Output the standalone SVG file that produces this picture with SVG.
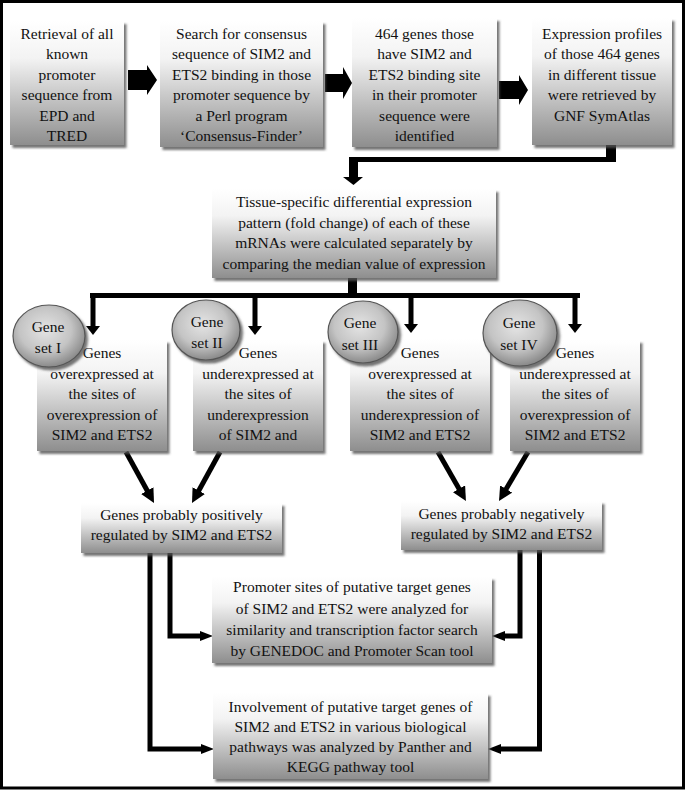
<svg xmlns="http://www.w3.org/2000/svg" width="685" height="790" viewBox="0 0 685 790">
<defs>
<linearGradient id="boxg" x1="0" y1="0" x2="0" y2="1">
<stop offset="0" stop-color="#ffffff"/>
<stop offset="0.3" stop-color="#f3f3f3"/>
<stop offset="1" stop-color="#8e8e8e"/>
</linearGradient>
<radialGradient id="ellg" cx="0.45" cy="0.4" r="0.6">
<stop offset="0" stop-color="#e4e4e4"/>
<stop offset="0.6" stop-color="#c4c4c4"/>
<stop offset="1" stop-color="#8a8a8a"/>
</radialGradient>
<filter id="sh" x="-10%" y="-10%" width="125%" height="130%">
<feDropShadow dx="2.5" dy="3" stdDeviation="1.2" flood-color="#555" flood-opacity="0.8"/>
</filter>
<marker id="ah" markerUnits="userSpaceOnUse" markerWidth="16" markerHeight="14" viewBox="0 0 16 14" refX="4" refY="7" orient="auto">
<path d="M0,0 L14,7 L0,14 z" fill="#000"/>
</marker>
<marker id="ahs" markerUnits="userSpaceOnUse" markerWidth="14" markerHeight="10" viewBox="0 0 14 10" refX="3" refY="5" orient="auto">
<path d="M0,0 L13,5 L0,10 z" fill="#000"/>
</marker>
</defs>
<style>
.box{fill:url(#boxg);filter:url(#sh);}
.ell{fill:url(#ellg);stroke:#555;stroke-width:1.2;filter:url(#sh);}
text{font-family:"Liberation Serif","Times New Roman",serif;font-size:15.5px;fill:#111;text-anchor:middle;}
.bar{fill:#000;}
.ln{fill:none;stroke:#000;stroke-width:5;stroke-linejoin:miter;}
</style>
<rect x="1.5" y="1.5" width="682" height="786.5" fill="none" stroke="#000" stroke-width="3"/>

<g id="connectors">
<polygon class="bar" points="128,70 147,70 147,65 157,80 147,95 147,90 128,90"/>
<polygon class="bar" points="325,74 343,74 343,67 352,83 343,99 343,92 325,92"/>
<polygon class="bar" points="499,81 519,81 519,75 528,90 519,105 519,99 499,99"/>
<polygon class="bar" points="606,145 616,145 616,162 358,162 358,177 363,177 353.5,185 343,177 349,177 349,157 606,157"/>
<polygon class="bar" points="348,278 357,278 357,293 580,293 580,298 90,298 90,293 348,293"/>
<g class="bar">
<rect x="90.5" y="293" width="5" height="33"/><polygon points="86,326 100,326 93,335"/>
<rect x="252.5" y="293" width="5" height="33"/><polygon points="248,326 262,326 255,335"/>
<rect x="408.5" y="293" width="5" height="31"/><polygon points="404,324 418,324 411,333"/>
<rect x="572.5" y="293" width="5" height="31"/><polygon points="568,324 582,324 575,333"/>
</g>
<line class="ln" x1="126" y1="452" x2="149.2" y2="494.2" marker-end="url(#ah)"/>
<line class="ln" x1="220" y1="452" x2="196.8" y2="494.2" marker-end="url(#ah)"/>
<line class="ln" x1="438" y1="452" x2="461" y2="492.3" marker-end="url(#ah)"/>
<line class="ln" x1="528" y1="452" x2="504.1" y2="492.4" marker-end="url(#ah)"/>
<path class="ln" d="M170,553 V636 H203" marker-end="url(#ahs)"/>
<path class="ln" d="M520,550 V636 H502" marker-end="url(#ahs)"/>
<path class="ln" d="M150,553 V749 H204" marker-end="url(#ahs)"/>
<path class="ln" d="M539.5,550 V749 H498" marker-end="url(#ahs)"/>
</g>

<g id="n1"><rect class="box" x="10" y="21" width="114" height="124"/>
<text x="67" y="38.5">Retrieval of all</text><text x="67" y="59">known</text><text x="67" y="79.5">promoter</text><text x="67" y="100">sequence from</text><text x="67" y="120.5">EPD and</text><text x="67" y="141">TRED</text></g>
<g id="n2"><rect class="box" x="160" y="21" width="163" height="126"/>
<text x="241.5" y="38.5">Search for consensus</text><text x="241.5" y="59">sequence of SIM2 and</text><text x="241.5" y="79.5">ETS2 binding in those</text><text x="241.5" y="100">promoter sequence by</text><text x="241.5" y="120.5">a Perl program</text><text x="241.5" y="141">‘Consensus-Finder’</text></g>
<g id="n3"><rect class="box" x="352" y="18" width="145" height="129"/>
<text x="424.5" y="38.5">464 genes those</text><text x="424.5" y="59">have SIM2 and</text><text x="424.5" y="79.5">ETS2 binding site</text><text x="424.5" y="100">in their promoter</text><text x="424.5" y="120.5">sequence were</text><text x="424.5" y="141">identified</text></g>
<g id="n4"><rect class="box" x="532" y="18" width="140" height="127"/>
<text x="602" y="38.5">Expression profiles</text><text x="602" y="59">of those 464 genes</text><text x="602" y="79.5">in different tissue</text><text x="602" y="100">were retrieved by</text><text x="602" y="120.5">GNF SymAtlas</text></g>
<g id="n5"><rect class="box" x="212" y="189" width="284" height="89"/>
<text x="354" y="207">Tissue-specific differential expression</text><text x="354" y="227.5">pattern (fold change) of each of these</text><text x="354" y="248">mRNAs were calculated separately by</text><text x="354" y="268.5">comparing the median value of expression</text></g>

<g id="g1"><rect class="box" x="37" y="340" width="130" height="111"/>
<text x="102" y="358">Genes</text><text x="102" y="378.5">overexpressed at</text><text x="102" y="399">the sites of</text><text x="102" y="419.5">overexpression of</text><text x="102" y="440">SIM2 and ETS2</text></g>
<g id="g2"><rect class="box" x="193" y="340" width="130" height="111"/>
<text x="258" y="358">Genes</text><text x="258" y="378.5">underexpressed at</text><text x="258" y="399">the sites of</text><text x="258" y="419.5">underexpression</text><text x="258" y="440">of SIM2 and</text></g>
<g id="g3"><rect class="box" x="350" y="339" width="140" height="112"/>
<text x="420" y="358">Genes</text><text x="420" y="378.5">overexpressed at</text><text x="420" y="399">the sites of</text><text x="420" y="419.5">underexpression of</text><text x="420" y="440">SIM2 and ETS2</text></g>
<g id="g4"><rect class="box" x="510" y="340" width="130" height="111"/>
<text x="575" y="358">Genes</text><text x="575" y="378.5">underexpressed at</text><text x="575" y="399">the sites of</text><text x="575" y="419.5">overexpression of</text><text x="575" y="440">SIM2 and ETS2</text></g>

<g id="s1"><ellipse class="ell" cx="49" cy="336" rx="36" ry="31"/><text x="48" y="332">Gene</text><text x="48" y="353">set I</text></g>
<g id="s2"><ellipse class="ell" cx="206" cy="330" rx="34" ry="30"/><text x="207" y="327">Gene</text><text x="207" y="348">set II</text></g>
<g id="s3"><ellipse class="ell" cx="363" cy="332" rx="35" ry="31"/><text x="360" y="328">Gene</text><text x="360" y="350">set III</text></g>
<g id="s4"><ellipse class="ell" cx="520" cy="333" rx="37" ry="33"/><text x="519" y="328">Gene</text><text x="519" y="350">set IV</text></g>

<g id="e1"><rect class="box" x="81" y="503" width="201" height="50"/>
<text x="181.5" y="520">Genes probably positively</text><text x="181.5" y="540">regulated by SIM2 and ETS2</text></g>
<g id="e2"><rect class="box" x="401" y="501" width="201" height="49"/>
<text x="501.5" y="519">Genes probably negatively</text><text x="501.5" y="539">regulated by SIM2 and ETS2</text></g>
<g id="p1"><rect class="box" x="212" y="577" width="280" height="86"/>
<text x="352" y="592">Promoter sites of putative target genes</text><text x="352" y="613.5">of SIM2 and ETS2 were analyzed for</text><text x="352" y="635">similarity and transcription factor search</text><text x="352" y="656">by GENEDOC and Promoter Scan tool</text></g>
<g id="p2"><rect class="box" x="213" y="693" width="275" height="86"/>
<text x="350.5" y="712">Involvement of putative target genes of</text><text x="350.5" y="732">SIM2 and ETS2 in various biological</text><text x="350.5" y="752">pathways was analyzed by Panther and</text><text x="350.5" y="772">KEGG pathway tool</text></g>
</svg>
